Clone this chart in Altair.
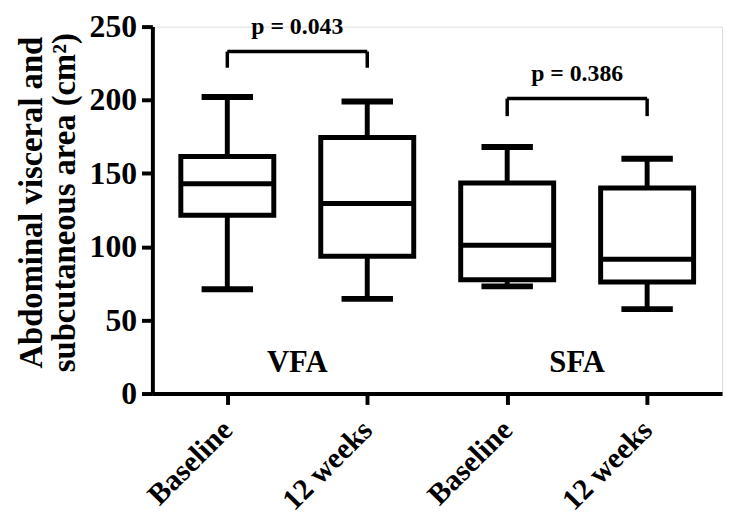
import altair as alt
import pandas as pd

# ---- data ----
positions = [1, 2, 3, 4]
time_labels = ["Baseline", "12 weeks", "Baseline", "12 weeks"]
group_of = ["VFA", "VFA", "SFA", "SFA"]
whisker_min = [71, 64.5, 73, 57.5]
q1 = [121.5, 93.5, 77.5, 76]
median = [143, 129.5, 101, 91.5]
q3 = [161.5, 174.5, 143.5, 140]
whisker_max = [202, 199, 168, 160]

bracket_start = [1, 3]
bracket_end = [2, 4]
bracket_mid = [1.5, 3.5]
bracket_top = [233, 201]
bracket_leg = [222, 189]
p_text = ["p = 0.043", "p = 0.386"]
p_text_y = [250, 218]

group_names = ["VFA", "SFA"]
group_label_y = [21, 21]

y_ticks = [0, 50, 100, 150, 200, 250]

FONT = "Liberation Serif"

boxes = pd.DataFrame({
    "pos": positions, "label": time_labels, "group": group_of,
    "lo": whisker_min, "q1": q1, "med": median, "q3": q3, "hi": whisker_max,
})
brackets = pd.DataFrame({
    "x1": bracket_start, "x2": bracket_end, "xm": bracket_mid,
    "top": bracket_top, "leg": bracket_leg, "p": p_text, "py": p_text_y,
})
groups = pd.DataFrame({"xm": bracket_mid, "name": group_names, "y": group_label_y})

label_expr = "[" + ",".join(f"'{t}'" for t in time_labels) + "][datum.value - 1]"

PLOT_H = 371

x_scale = alt.Scale(domain=[0.5, 4.5], nice=False, zero=False)
y_scale = alt.Scale(domain=[0, 250], nice=False)

x_axis = alt.Axis(
    values=positions, labelExpr=label_expr, labelAngle=315, labelAlign="right",
    labelBaseline="middle", labelFontSize=30, labelFont=FONT, labelFontWeight="bold",
    labelColor="black", tickSize=11, tickWidth=4, tickColor="black",
    domainColor="black", domainWidth=4, grid=False, title=None, labelPadding=21,
)
y_axis = alt.Axis(
    values=y_ticks, labelFontSize=32, labelFont=FONT, labelFontWeight="bold",
    labelColor="black", tickSize=11, tickWidth=4, tickColor="black",
    domainColor="black", domainWidth=4, grid=False, labelPadding=5,
    title=["Abdominal visceral and", "subcutaneous area (cm²)"],
    titleFont=FONT, titleFontSize=33, titleFontWeight="bold", titleColor="black",
    titleLineHeight=33, titlePadding=8, titleY=PLOT_H / 2 - 8,
)

base = alt.Chart(boxes)
X = alt.X("pos:Q", scale=x_scale, axis=x_axis)
Y = alt.Y("lo:Q", scale=y_scale, axis=y_axis)

whisker = base.mark_rule(color="black", strokeWidth=5).encode(x=X, y=Y, y2="hi:Q")
box = base.mark_bar(size=94, fill="white", stroke="black", strokeWidth=5,
                    orient="vertical").encode(
    x=alt.X("pos:Q", scale=x_scale), y=alt.Y("q1:Q", scale=y_scale), y2="q3:Q")
med_tick = base.mark_tick(size=94, thickness=5, color="black", orient="horizontal",
                          opacity=1).encode(
    x=alt.X("pos:Q", scale=x_scale), y=alt.Y("med:Q", scale=y_scale))
cap_lo = base.mark_tick(size=52, thickness=6, color="black", orient="horizontal",
                        opacity=1).encode(
    x=alt.X("pos:Q", scale=x_scale), y=alt.Y("lo:Q", scale=y_scale))
cap_hi = base.mark_tick(size=52, thickness=6, color="black", orient="horizontal",
                        opacity=1).encode(
    x=alt.X("pos:Q", scale=x_scale), y=alt.Y("hi:Q", scale=y_scale))

bb = alt.Chart(brackets)
br_top = bb.mark_rule(color="black", strokeWidth=3.5).encode(
    x=alt.X("x1:Q", scale=x_scale), x2="x2:Q", y=alt.Y("top:Q", scale=y_scale))
br_l = bb.mark_rule(color="black", strokeWidth=3.5).encode(
    x=alt.X("x1:Q", scale=x_scale), y=alt.Y("leg:Q", scale=y_scale), y2="top:Q")
br_r = bb.mark_rule(color="black", strokeWidth=3.5).encode(
    x=alt.X("x2:Q", scale=x_scale), y=alt.Y("leg:Q", scale=y_scale), y2="top:Q")
p_lbl = bb.mark_text(font=FONT, fontSize=24, fontWeight="bold", color="black",
                     baseline="middle", align="center").encode(
    x=alt.X("xm:Q", scale=x_scale), y=alt.Y("py:Q", scale=y_scale), text="p:N")

g_lbl = alt.Chart(groups).mark_text(font=FONT, fontSize=31, fontWeight="bold",
                                    color="black", baseline="middle",
                                    align="center").encode(
    x=alt.X("xm:Q", scale=x_scale), y=alt.Y("y:Q", scale=y_scale), text="name:N")

chart = alt.layer(
    whisker, box, med_tick, cap_lo, cap_hi, br_top, br_l, br_r, p_lbl, g_lbl
).properties(
    width=576, height=PLOT_H,
    autosize=alt.AutoSizeParams(type="none"),
    padding={"left": 146, "top": 16, "right": 4, "bottom": 120},
).configure_view(stroke=None).configure(background="white")

chart.save("out.html", embed_options={"renderer": "svg", "actions": False})
